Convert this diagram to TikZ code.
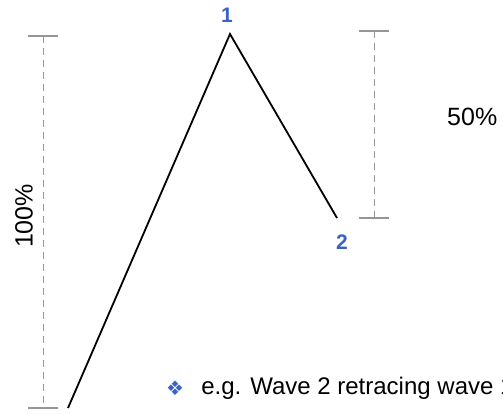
\documentclass[tikz,border=0pt]{standalone}
\usepackage{fontspec}
\setmainfont{Liberation Sans}
\newfontfamily\symfont{DejaVu Sans}
\usetikzlibrary{positioning}
\definecolor{wavenum}{RGB}{58,98,196}
\definecolor{dimgray}{RGB}{150,150,150}

\begin{document}
\begin{tikzpicture}[x=1pt, y=-1pt,
      wave/.style={line width=1.8pt, black},
      dimline/.style={dimgray, line width=1pt, dash pattern=on 7pt off 5pt},
      dimtick/.style={dimgray, line width=1.2pt},
      wavelabel/.style={font=\bfseries\fontsize{21}{23}\selectfont, text=wavenum, inner sep=0pt},
      pct/.style={font=\fontsize{25}{28}\selectfont, inner sep=0pt}]
    \useasboundingbox (0,0) rectangle (503,413);
    % wave points
    \coordinate (w0) at (68,408);
    \coordinate (w1) at (230,34);
    \coordinate (w2) at (337,218);
    \draw[wave] (w0) -- (w1) -- (w2);
    \node[wavelabel] (l1) at (227,15) {1};
    \node[wavelabel] (l2) at (342,242) {2};
    % 100% range
    \coordinate (a0) at (43,36);
    \coordinate (a1) at (43,408);
    \draw[dimline] (a0) -- (a1);
    \draw[dimtick] ([xshift=-15pt]a0) -- ([xshift=15pt]a0);
    \draw[dimtick] ([xshift=-15pt]a1) -- ([xshift=15pt]a1);
    \node[pct, rotate=90] (p100) at (24,216) {100\%};
    % 50% retrace
    \coordinate (b0) at (374,31);
    \coordinate (b1) at (374,218);
    \draw[dimline] (b0) -- (b1);
    \draw[dimtick] ([xshift=-15pt]b0) -- ([xshift=15pt]b0);
    \draw[dimtick] ([xshift=-15pt]b1) -- ([xshift=15pt]b1);
    \node[pct, anchor=west] (p50) at (447,117) {50\%};
    % note
    \node[font=\symfont\fontsize{20}{22}\selectfont, text=wavenum, inner sep=0pt] (bul) at (175,388) {❖};
    \node[font=\fontsize{24}{27}\selectfont, anchor=west, inner sep=0pt, right=17pt of bul] (note) {e.g. Wave 2 retracing wave 1};
  \end{tikzpicture}
\end{document}
